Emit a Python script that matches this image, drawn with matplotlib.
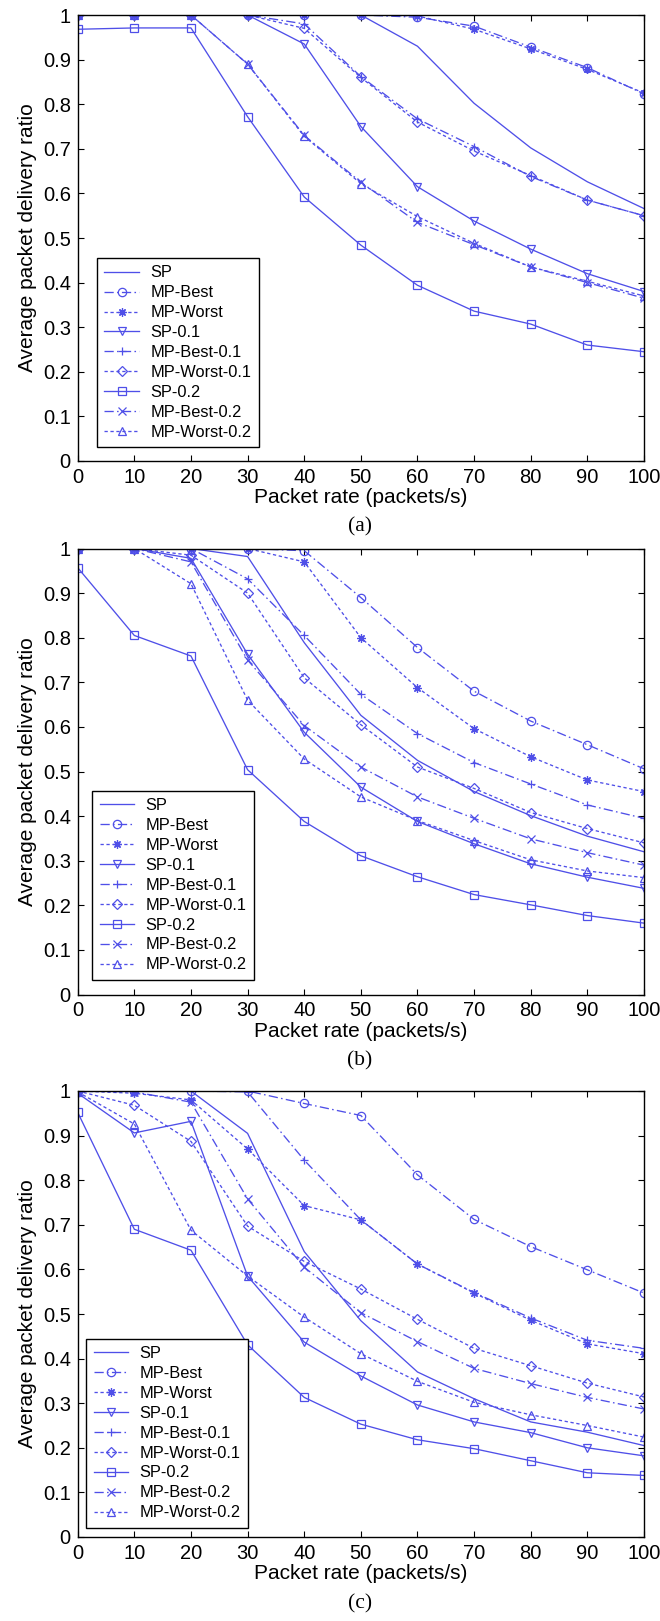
import numpy as np
import matplotlib
matplotlib.use("Agg")
import matplotlib.pyplot as plt

rates = [0, 10, 20, 30, 40, 50, 60, 70, 80, 90, 100]
series_names = ["SP", "MP-Best", "MP-Worst", "SP-0.1", "MP-Best-0.1",
                "MP-Worst-0.1", "SP-0.2", "MP-Best-0.2", "MP-Worst-0.2"]

# panel (a)
a_sp = [1, 1, 1, 1, 1, 1, 0.93, 0.802, 0.702, 0.626, 0.566]
a_mp_best = [1, 1, 1, 1, 1, 1, 0.995, 0.975, 0.928, 0.882, 0.823]
a_mp_worst = [1, 1, 1, 1, 1, 1, 0.998, 0.968, 0.924, 0.878, 0.825]
a_sp_01 = [1, 1, 1, 1, 0.935, 0.75, 0.615, 0.538, 0.475, 0.42, 0.38]
a_mp_best_01 = [1, 1, 1, 1, 0.98, 0.862, 0.767, 0.705, 0.638, 0.585, 0.55]
a_mp_worst_01 = [1, 1, 1, 1, 0.97, 0.86, 0.76, 0.695, 0.64, 0.585, 0.55]
a_sp_02 = [0.968, 0.971, 0.971, 0.772, 0.592, 0.484, 0.394, 0.336, 0.307, 0.26, 0.245]
a_mp_best_02 = [1, 1, 1, 0.89, 0.73, 0.625, 0.535, 0.485, 0.435, 0.40, 0.365]
a_mp_worst_02 = [1, 1, 1, 0.89, 0.728, 0.622, 0.548, 0.488, 0.435, 0.403, 0.37]

# panel (b)
b_sp = [1, 1, 1, 0.982, 0.789, 0.626, 0.525, 0.455, 0.401, 0.355, 0.32]
b_mp_best = [1, 1, 1, 1, 0.995, 0.89, 0.778, 0.68, 0.613, 0.56, 0.506]
b_mp_worst = [1, 1, 1, 1, 0.97, 0.80, 0.688, 0.596, 0.533, 0.481, 0.455]
b_sp_01 = [1, 1, 0.978, 0.763, 0.588, 0.465, 0.388, 0.338, 0.293, 0.263, 0.238]
b_mp_best_01 = [1, 1, 1, 0.932, 0.805, 0.673, 0.585, 0.52, 0.472, 0.425, 0.395]
b_mp_worst_01 = [1, 1, 0.985, 0.90, 0.71, 0.605, 0.51, 0.462, 0.408, 0.372, 0.34]
b_sp_02 = [0.957, 0.805, 0.759, 0.504, 0.388, 0.311, 0.264, 0.224, 0.201, 0.177, 0.16]
b_mp_best_02 = [1, 1, 0.97, 0.75, 0.603, 0.51, 0.443, 0.395, 0.349, 0.318, 0.29]
b_mp_worst_02 = [1, 1, 0.921, 0.66, 0.528, 0.443, 0.39, 0.345, 0.302, 0.277, 0.262]

# panel (c)
c_sp = [1, 1, 1, 0.905, 0.64, 0.485, 0.37, 0.31, 0.258, 0.235, 0.205]
c_mp_best = [1, 1, 1, 1, 0.972, 0.945, 0.812, 0.712, 0.651, 0.599, 0.547]
c_mp_worst = [1, 0.995, 0.98, 0.87, 0.743, 0.711, 0.612, 0.547, 0.486, 0.433, 0.411]
c_sp_01 = [0.995, 0.906, 0.932, 0.585, 0.437, 0.361, 0.296, 0.258, 0.234, 0.2, 0.182]
c_mp_best_01 = [1, 1, 1, 0.998, 0.845, 0.711, 0.612, 0.548, 0.491, 0.441, 0.423]
c_mp_worst_01 = [1, 0.968, 0.887, 0.697, 0.618, 0.556, 0.488, 0.423, 0.384, 0.345, 0.314]
c_sp_02 = [0.952, 0.69, 0.643, 0.431, 0.313, 0.253, 0.218, 0.198, 0.171, 0.144, 0.138]
c_mp_best_02 = [1, 0.998, 0.975, 0.758, 0.605, 0.503, 0.438, 0.378, 0.344, 0.313, 0.287]
c_mp_worst_02 = [0.998, 0.926, 0.688, 0.585, 0.493, 0.411, 0.349, 0.302, 0.274, 0.25, 0.224]

panel_a = [a_sp, a_mp_best, a_mp_worst, a_sp_01, a_mp_best_01, a_mp_worst_01,
           a_sp_02, a_mp_best_02, a_mp_worst_02]
panel_b = [b_sp, b_mp_best, b_mp_worst, b_sp_01, b_mp_best_01, b_mp_worst_01,
           b_sp_02, b_mp_best_02, b_mp_worst_02]
panel_c = [c_sp, c_mp_best, c_mp_worst, c_sp_01, c_mp_best_01, c_mp_worst_01,
           c_sp_02, c_mp_best_02, c_mp_worst_02]

blue = "#4f4fe8"
solid = "-"
dashdot = (0, (7, 2.5, 1.2, 2.5))
dotted = (0, (2.5, 2))
asterisk = (8, 2, 0)
styles = [
    (solid, None),
    (dashdot, "o"),
    (dotted, asterisk),
    (solid, "v"),
    (dashdot, "+"),
    (dotted, "D"),
    (solid, "s"),
    (dashdot, "x"),
    (dotted, "^"),
]

plt.rcParams["font.family"] = ["Liberation Sans", "DejaVu Sans"]

fig = plt.figure(figsize=(6.6, 16.21), dpi=100)
H = 1621.0
W = 660.0

panels = [
    (panel_a, 461.0, "(a)", (0.034, 0.031), 527),
    (panel_b, 994.5, "(b)", (0.026, 0.033), 1061),
    (panel_c, 1537.0, "(c)", (0.015, 0.021), 1604),
]

for data, ybottom, tag, anchor, tag_y in panels:
    ax = fig.add_axes([77.7 / W, (H - ybottom) / H, 566.3 / W, 446.0 / H])
    for name, vals, (ls, mk) in zip(series_names, data, styles):
        ms = 6
        if mk == "D":
            ms = 4.8
        ax.plot(rates, vals, linestyle=ls, marker=mk, color=blue, lw=0.95,
                markersize=ms, markerfacecolor="none", markeredgecolor=blue,
                markeredgewidth=0.9, label=name)
    ax.set_xlim(0, 100)
    ax.set_ylim(0, 1)
    ax.set_xticks(np.arange(0, 101, 10))
    ax.set_yticks(np.arange(0, 1.01, 0.1))
    ax.set_yticklabels(["0", "0.1", "0.2", "0.3", "0.4", "0.5", "0.6",
                        "0.7", "0.8", "0.9", "1"])
    ax.tick_params(direction="in", top=True, right=True, length=4,
                   width=0.8, labelsize=14.5, pad=5)
    for sp in ax.spines.values():
        sp.set_linewidth(1.0)
    ax.set_xlabel("Packet rate (packets/s)", fontsize=15, labelpad=1)
    ax.set_ylabel("Average packet delivery ratio", fontsize=15, labelpad=4)
    leg = ax.legend(loc="lower left", bbox_to_anchor=anchor, fontsize=11.8,
                    frameon=True, fancybox=False, edgecolor="black",
                    framealpha=1, borderaxespad=0, labelspacing=0.3,
                    handlelength=2.1, handletextpad=0.7, borderpad=0.45)
    leg.get_frame().set_linewidth(1.0)
    fig.text(360 / W, (H - tag_y) / H, tag, ha="center", va="center",
             fontsize=15.5, family=["Liberation Serif", "DejaVu Serif"])

fig.savefig("out.png", dpi=100)
